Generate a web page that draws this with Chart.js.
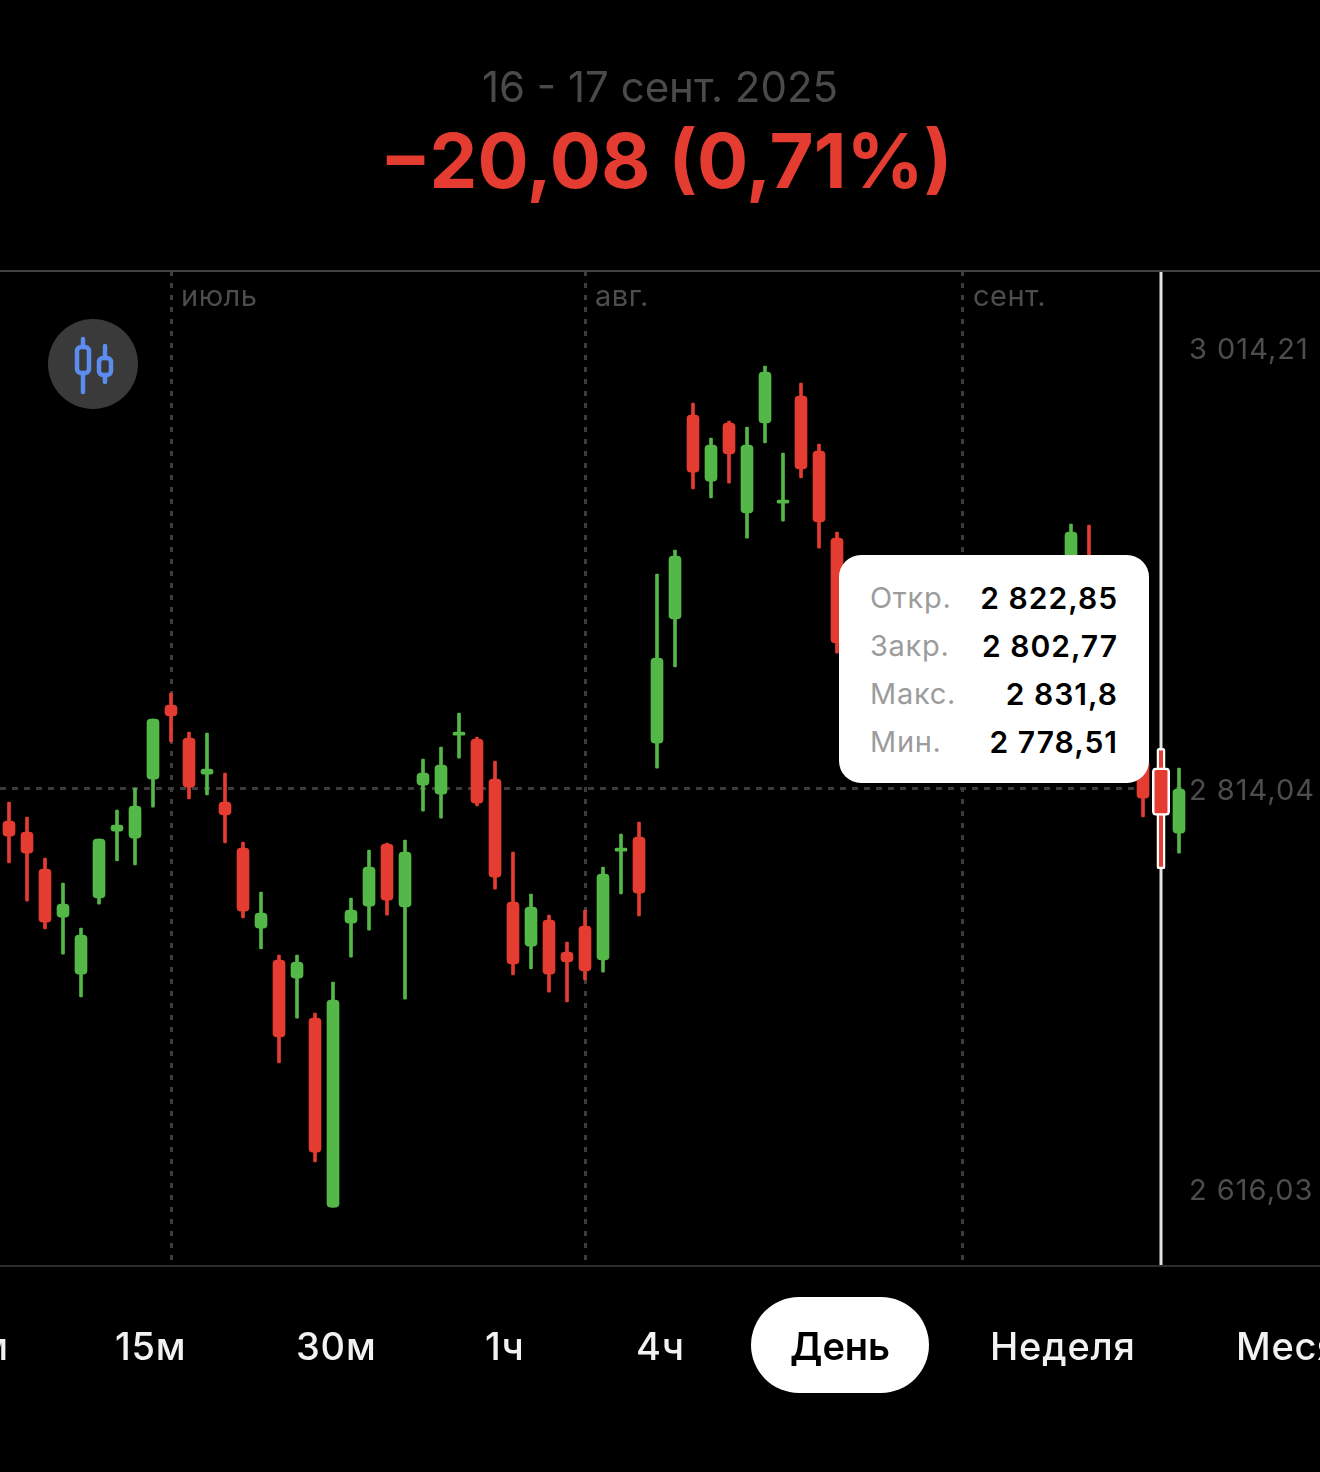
<!DOCTYPE html>
<html lang="ru">
<head>
<meta charset="utf-8">
<title>16 - 17 сент. 2025</title>
<script src="https://cdn.jsdelivr.net/npm/chart.js@4"></script>
<style>
    html, body { margin: 0; padding: 0; background: #000; }
    body { position: relative; width: 1320px; height: 1472px; overflow: hidden; font-family: Inter, sans-serif; }
    canvas { position: absolute; left: 0; top: 0; }
    .abs { position: absolute; white-space: nowrap; }
    #period { left: 0; width: 1320px; top: 62px; line-height: 50px; text-align: center; font-size: 42px; color: #4a4a4a; }
    #change { left: 6px; width: 1320px; top: 115px; line-height: 90px; text-align: center; font-size: 76px; font-weight: 700; color: #e53c31; }
    #modeBtn { left: 48px; top: 319px; }
    #tooltip { left: 839px; top: 555px; width: 310px; height: 228px; background: #fff; border-radius: 22px; }
    .tipLabel, .tipValue { position: absolute; line-height: 40px; font-size: 29px; }
    .tipLabel { left: 31px; color: #9c9c9c; letter-spacing: 0.7px; }
    .tipValue { right: 31px; color: #000; font-size: 30px; font-weight: 600; letter-spacing: 1px; }
    .tab { position: absolute; top: 1322px; line-height: 48px; font-size: 38px; font-weight: 500; letter-spacing: 0.8px; color: #f2f2f2; white-space: nowrap; }
    #activeTab { position: absolute; left: 751px; top: 1297px; width: 178px; height: 96px; border-radius: 48px; background: #fff; }
</style>
</head>
<body>
<canvas id="candleChart" width="1320" height="1472"></canvas>
<div class="abs" id="period">16 - 17 сент. 2025</div>
<div class="abs" id="change">−20,08 (0,71%)</div>
<svg class="abs" id="modeBtn" width="90" height="90" viewBox="0 0 90 90">
    <circle cx="45" cy="45" r="45" fill="#3a3a3a"/>
    <g fill="none" stroke="#5b8def" stroke-width="4.5" stroke-linecap="round">
        <path d="M35 20V28M35 54V73M57 27V39M57 56V63"/>
        <rect x="29" y="28" width="12" height="26" rx="4"/>
        <rect x="51" y="39" width="12" height="17" rx="4"/>
    </g>
</svg>
<div class="abs" id="tooltip"></div>
<div id="activeTab"></div>
<div id="tabs"></div>

<script>
// ================= Data =================
const dates = [
    "18.06", "19.06", "20.06", "23.06", "24.06", "25.06", "26.06", "27.06", "30.06",
    "01.07", "02.07", "03.07", "04.07", "07.07", "08.07", "09.07", "10.07", "11.07", "14.07", "15.07", "16.07", "17.07", "18.07",
    "21.07", "22.07", "23.07", "24.07", "25.07", "28.07", "29.07", "30.07", "31.07",
    "01.08", "04.08", "05.08", "06.08", "07.08", "08.08", "11.08", "12.08", "13.08", "14.08", "15.08",
    "18.08", "19.08", "20.08", "21.08", "22.08", "25.08", "26.08", "27.08", "28.08", "29.08",
    "01.09", "02.09", "03.09", "04.09", "05.09", "08.09", "09.09", "10.09", "11.09", "12.09", "15.09", "16.09", "17.09"
];

// days behind the tooltip can't be read, they stay null
const opens = [
    2799.5, 2794.5, 2777.6, 2755.8, 2729.9, 2764.5, 2794.9, 2791.7, 2818.5,
    2852.2, 2837.2, 2820.8, 2808.1, 2787.2, 2750.8, 2736.3, 2728.1, 2709.9, 2624.0, 2753.1, 2760.8, 2789.0, 2760.4,
    2815.8, 2811.7, 2838.5, 2836.7, 2818.5, 2762.6, 2742.6, 2754.5, 2739.9,
    2751.7, 2736.3, 2785.8, 2792.2, 2834.9, 2891.3, 2984.0, 2954.0, 2980.4, 2939.5, 2980.4,
    2944.0, 2992.6, 2967.6, 2928.1, null, null, null, null, null, null,
    null, null, null, null, null, null, 2911.3, 2918.1, null, null, 2827.2, 2822.85, 2794.0
];
const closes = [
    2792.6, 2784.9, 2753.5, 2761.7, 2747.6, 2791.3, 2797.6, 2806.3, 2845.8,
    2847.2, 2814.9, 2823.1, 2802.2, 2758.5, 2757.6, 2701.3, 2735.4, 2649.0, 2718.1, 2759.0, 2778.5, 2763.5, 2785.4,
    2821.3, 2824.9, 2839.9, 2807.6, 2774.0, 2734.5, 2760.4, 2729.9, 2735.4,
    2731.3, 2775.4, 2787.2, 2766.7, 2873.5, 2919.9, 2958.1, 2970.4, 2966.3, 2970.4, 3003.5,
    2945.4, 2959.5, 2935.4, 2880.4, null, null, null, null, null, null,
    null, null, null, null, null, null, 2930.8, 2895.4, null, null, 2809.9, 2802.77, 2814.0
];
const highs = [
    2808.1, 2801.3, 2782.6, 2771.3, 2750.8, 2791.3, 2804.5, 2814.5, 2845.8,
    2857.6, 2839.9, 2839.5, 2821.3, 2789.9, 2767.2, 2738.5, 2738.5, 2712.2, 2726.3, 2764.5, 2786.3, 2789.5, 2790.8,
    2827.6, 2833.1, 2848.5, 2837.6, 2826.7, 2785.4, 2766.3, 2756.7, 2744.5,
    2759.0, 2778.5, 2793.5, 2799.0, 2911.7, 2922.6, 2989.5, 2973.5, 2981.3, 2978.5, 3006.3,
    2966.7, 2998.5, 2970.8, 2930.8, null, null, null, null, null, null,
    null, null, null, null, null, null, 2934.5, 2934.0, null, null, 2834.0, 2831.8, 2823.5
];
const lows = [
    2780.4, 2763.1, 2750.4, 2739.0, 2719.5, 2761.7, 2781.3, 2779.5, 2805.8,
    2835.4, 2809.5, 2811.3, 2789.5, 2755.4, 2741.3, 2689.5, 2709.9, 2644.5, 2624.0, 2737.6, 2749.9, 2756.7, 2718.5,
    2804.0, 2800.8, 2828.1, 2806.3, 2768.5, 2729.5, 2732.2, 2721.7, 2717.2,
    2727.2, 2730.8, 2766.3, 2756.3, 2823.5, 2869.5, 2950.4, 2946.3, 2953.1, 2928.1, 2971.3,
    2935.8, 2955.4, 2923.5, 2875.8, null, null, null, null, null, null,
    null, null, null, null, null, null, 2899.9, 2881.7, null, null, 2801.3, 2778.51, 2784.9
];

const selectedDate = "16.09";
const monthDates = ["01.07", "01.08", "01.09"];
const monthLabels = ["июль", "авг.", "сент."];

// the app prints the lowest label well above its own price, so the tick sits where the label is
const yTickValues = [3014.21, 2814.04, 2632];
const yTickLabels = ["3 014,21", "2 814,04", "2 616,03"];
const crossPrice = 2814.04;

const tooltipLabels = ["Откр.", "Закр.", "Макс.", "Мин."];
const tooltipValues = ["2 822,85", "2 802,77", "2 831,8", "2 778,51"];

const tabLabels = ["5м", "15м", "30м", "1ч", "4ч", "День", "Неделя", "Месяц"];
const tabLefts = [-46, 115, 296, 485, 636, 790, 990, 1236];

// ================= Colors =================
const RED = "#e53c31";
const GREEN = "#53b848";
const GRID = "#3c3c3c";
const AXIS_TEXT = "#4d4d4d";

const selectedIndex = dates.indexOf(selectedDate);
const candleColors = dates.map((d, i) => closes[i] >= opens[i] ? GREEN : RED);

function wickBar(i) {
    return lows[i] === null ? null : [lows[i], highs[i]];
}

function bodyBar(i) {
    return opens[i] === null ? null : [opens[i], closes[i]];
}

// ================= Overlay Plugin =================
const overlayPlugin = {
    id: "overlay",
    beforeDatasetsDraw(chart) {
        const { ctx, chartArea, scales } = chart;

        ctx.save();
        ctx.strokeStyle = "#e2e2e2";
        ctx.lineWidth = 3;
        const x = scales.x.getPixelForValue(selectedIndex);
        ctx.beginPath();
        ctx.moveTo(x, chartArea.top);
        ctx.lineTo(x, chartArea.bottom);
        ctx.stroke();

        ctx.fillStyle = AXIS_TEXT;
        ctx.textBaseline = "middle";

        ctx.font = "29px Inter, sans-serif";
        ctx.letterSpacing = "0.5px";
        monthDates.forEach((d, i) => {
            ctx.fillText(monthLabels[i], scales.x.getPixelForValue(dates.indexOf(d)) + 10, chartArea.top + 26);
        });

        // price labels sit 2px lower than the axis would put them and are spaced wider
        ctx.letterSpacing = "1px";
        yTickValues.forEach((v, i) => {
            ctx.fillText(yTickLabels[i], chartArea.right + 1, scales.y.getPixelForValue(v) + 2);
        });

        ctx.lineWidth = 2;
        ctx.strokeStyle = "#424242";
        ctx.beginPath();
        ctx.moveTo(0, chartArea.top);
        ctx.lineTo(chart.width, chartArea.top);
        ctx.stroke();
        ctx.strokeStyle = "#2c2c2c";
        ctx.beginPath();
        ctx.moveTo(0, chartArea.bottom);
        ctx.lineTo(chart.width, chartArea.bottom);
        ctx.stroke();
        ctx.restore();
    }
};

// ================= Chart =================
const ctx = document.getElementById("candleChart").getContext("2d");

new Chart(ctx, {
    type: "bar",
    data: {
        labels: dates,
        datasets: [
            {
                label: "Тени",
                data: dates.map((d, i) => i === selectedIndex ? null : wickBar(i)),
                backgroundColor: candleColors,
                barThickness: 3,
                borderRadius: 1,
                borderSkipped: false,
                grouped: false,
                order: 4
            },
            {
                label: "Свечи",
                data: dates.map((d, i) => i === selectedIndex ? null : bodyBar(i)),
                backgroundColor: candleColors,
                barThickness: 12,
                borderRadius: 4,
                borderSkipped: false,
                grouped: false,
                order: 3
            },
            {
                label: "Выбранная тень",
                data: dates.map((d, i) => i === selectedIndex ? wickBar(i) : null),
                backgroundColor: candleColors,
                borderColor: "#ffffff",
                borderWidth: 2.5,
                barThickness: 5,
                inflateAmount: 2,
                borderRadius: 3,
                borderSkipped: false,
                grouped: false,
                order: 2
            },
            {
                label: "Выбранная свеча",
                data: dates.map((d, i) => i === selectedIndex ? bodyBar(i) : null),
                backgroundColor: candleColors,
                borderColor: "#ffffff",
                borderWidth: 2.5,
                barThickness: 14,
                inflateAmount: 2,
                borderRadius: 4,
                borderSkipped: false,
                grouped: false,
                order: 1
            }
        ]
    },
    options: {
        responsive: false,
        animation: false,
        layout: {
            padding: { top: 271, bottom: 206, left: 0, right: 0 }
        },
        plugins: {
            legend: { display: false },
            tooltip: { enabled: false }
        },
        scales: {
            x: {
                offset: true,
                ticks: { display: false, autoSkip: false },
                border: { display: false, dash: [5, 7] },
                grid: {
                    offset: false,
                    drawTicks: false,
                    lineWidth: 3,
                    color: c => monthDates.includes(dates[c.index]) ? GRID : "transparent"
                }
            },
            y: {
                position: "right",
                min: 2597.22,
                max: 3049.49,
                afterFit: scale => { scale.width = 132; },
                afterBuildTicks: scale => {
                    scale.ticks = yTickValues.map(v => ({ value: v }));
                },
                ticks: { display: false },
                border: { display: false, dash: [6, 6] },
                grid: {
                    drawTicks: false,
                    lineWidth: 3,
                    color: c => c.tick && c.tick.value === crossPrice ? GRID : "transparent"
                }
            }
        }
    },
    plugins: [overlayPlugin]
});

// ================= Tooltip =================
const tooltip = document.getElementById("tooltip");

tooltipLabels.forEach((label, i) => {
    const top = 23 + i * 48;
    tooltip.innerHTML +=
        `<div class="tipLabel" style="top:${top}px">${label}</div>` +
        `<div class="tipValue" style="top:${top}px">${tooltipValues[i]}</div>`;
});

// ================= Timeframe Tabs =================
const tabs = document.getElementById("tabs");

tabLabels.forEach((label, i) => {
    const color = label === "День" ? "color:#000;font-weight:600;letter-spacing:0;" : "";
    tabs.innerHTML += `<div class="tab" style="left:${tabLefts[i]}px;${color}">${label}</div>`;
});
</script>
</body>
</html>
